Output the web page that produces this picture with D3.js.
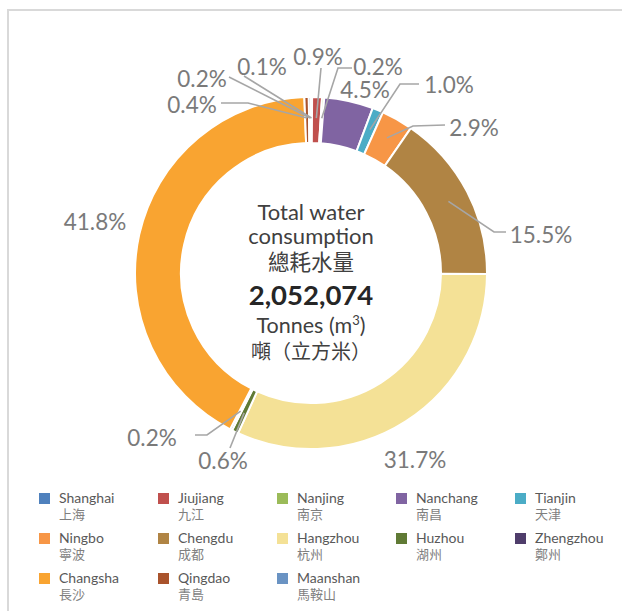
<!DOCTYPE html>
<html>
<head>
<meta charset="utf-8">
<script src="https://cdn.jsdelivr.net/npm/d3@7/dist/d3.min.js"></script>
<style>
  html, body { margin: 0; padding: 0; background: #ffffff; }
  svg { display: block; }
</style>
</head>
<body>
<svg id="chart" width="622" height="611"></svg>
<script>
// ---------- data ----------
const cities   = ["Shanghai","Jiujiang","Nanjing","Nanchang","Tianjin","Ningbo","Chengdu","Hangzhou","Huzhou","Zhengzhou","Changsha","Qingdao","Maanshan"];
const citiesZh = ["上海","九江","南京","南昌","天津","寧波","成都","杭州","湖州","鄭州","長沙","青島","馬鞍山"];
const shares   = [0.1, 0.9, 0.2, 4.5, 1.0, 2.9, 15.5, 31.7, 0.6, 0.2, 41.8, 0.4, 0.2];
const colors   = ["#4f81bd","#c0504d","#9bbb59","#8064a2","#4bacc6","#f79646","#b08444","#f4e196","#607a35","#4f3d6b","#f9a431","#a9532c","#6a93c3"];
const centerLines = ["Total water","consumption","總耗水量","2,052,074","Tonnes (m³)","噸（立方米）"];

// ---------- layout ----------
const cx = 311, cy = 273, rOuter = 176, rInner = 130, rLead = 155;
// label centre and leader-line start/elbow (annotation layout)
const labelLayout = [
  {x: 262, y: 66,  line: [[244, 76], [244, 76]]},
  {x: 318, y: 56,  line: [[321, 68], [321, 68]]},
  {x: 378, y: 66,  line: [[352, 68], [338, 68]]},
  {x: 365, y: 89,  line: null},
  {x: 449, y: 84,  line: [[419, 84], [400, 84]]},
  {x: 474, y: 127, line: [[445, 125], [413, 126]]},
  {x: 541, y: 234, line: [[506, 232], [494, 232]]},
  {x: 415, y: 459, line: null},
  {x: 223, y: 460, line: [[230, 448], [230, 448]]},
  {x: 152, y: 437, line: [[195, 435], [207, 435]]},
  {x: 95,  y: 221, line: null},
  {x: 192, y: 104, line: [[221, 103], [248, 103]]},
  {x: 202, y: 78,  line: [[229, 77], [229, 77]]}
];

const svg = d3.select("#chart");

// frame
svg.append("rect")
  .attr("x", 8).attr("y", 10).attr("width", 800).attr("height", 800)
  .attr("fill", "#ffffff").attr("stroke", "#d9d9d9").attr("stroke-width", 2);

const data = cities.map((c, i) => ({city: c, zh: citiesZh[i], value: shares[i], color: colors[i]}));

const pie = d3.pie().sort(null).value(d => d.value);
const arcs = pie(data);
const arc = d3.arc().innerRadius(rInner).outerRadius(rOuter);
const leadArc = d3.arc().innerRadius(rLead).outerRadius(rLead);

const g = svg.append("g").attr("transform", `translate(${cx},${cy})`);
g.selectAll("path.slice").data(arcs).join("path")
  .attr("class", "slice")
  .attr("d", arc)
  .attr("fill", d => d.data.color)
  .attr("stroke", "#ffffff")
  .attr("stroke-width", 2)
  .attr("stroke-linejoin", "miter");

// leader lines
const lineGen = d3.line();
arcs.forEach((a, i) => {
  const L = labelLayout[i];
  if (!L.line) return;
  const c = leadArc.centroid(a);
  const end = [cx + c[0], cy + c[1]];
  svg.append("path")
    .attr("d", lineGen([L.line[0], L.line[1], end]))
    .attr("fill", "none")
    .attr("stroke", "#a6a6a6")
    .attr("stroke-width", 1.6);
});

// percentage labels
arcs.forEach((a, i) => {
  const L = labelLayout[i];
  svg.append("text")
    .attr("x", L.x).attr("y", L.y)
    .attr("text-anchor", "middle")
    .attr("dominant-baseline", "central")
    .attr("font-family", "Lato, 'Noto Sans', sans-serif")
    .attr("font-size", 22.5)
    .attr("fill", "#7a7a7a")
    .text(d3.format(".1f")(a.data.value) + "%");
});

// centre text
const centerSpec = [
  {y: 220, size: 22, weight: 400, family: "Lato, sans-serif"},
  {y: 244, size: 22, weight: 400, family: "Lato, sans-serif"},
  {y: 270, size: 21.5, weight: 400, family: "'Noto Sans CJK TC', sans-serif"},
  {y: 305, size: 27.5, weight: 700, family: "Lato, sans-serif"},
  {y: 333, size: 21.5, weight: 400, family: "Lato, sans-serif"},
  {y: 359, size: 20, weight: 400, family: "'Noto Sans CJK TC', sans-serif"}
];
centerLines.forEach((t, i) => {
  const s = centerSpec[i];
  const txt = svg.append("text")
    .attr("x", cx).attr("y", s.y)
    .attr("text-anchor", "middle")
    .attr("font-family", s.family)
    .attr("font-size", s.size)
    .attr("font-weight", s.weight)
    .attr("fill", i === 3 ? "#262626" : "#404040");
  if (t.includes("³")) {
    txt.append("tspan").text("Tonnes (m");
    txt.append("tspan").attr("font-size", 13).attr("dy", -8).text("3");
    txt.append("tspan").attr("dy", 8).text(")");
  } else {
    txt.text(t);
  }
});

// legend
const colX = d3.scaleLinear().domain([0, 4]).range([39, 515]);
const rowY = d3.scaleLinear().domain([0, 2]).range([493, 573]);
const leg = svg.append("g");
data.forEach((d, i) => {
  const col = i % 5, row = Math.floor(i / 5);
  const x = colX(col), y = rowY(row);
  leg.append("rect").attr("x", x).attr("y", y).attr("width", 11).attr("height", 11).attr("fill", d.color);
  leg.append("text").attr("x", x + 20).attr("y", y + 9.5)
    .attr("font-family", "Lato, 'Noto Sans', sans-serif").attr("font-size", 14)
    .attr("fill", "#595959").text(d.city);
  leg.append("text").attr("x", x + 20).attr("y", y + 26)
    .attr("font-family", "'Noto Sans CJK TC', sans-serif").attr("font-size", 13)
    .attr("fill", "#7f7f7f").text(d.zh);
});
</script>
</body>
</html>
